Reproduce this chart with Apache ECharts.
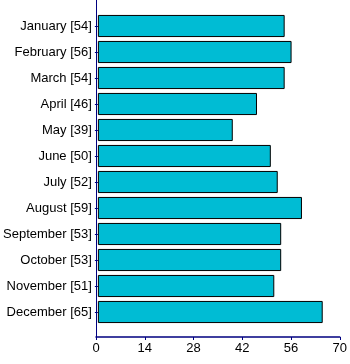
<!DOCTYPE html>
<html>
<head>
<meta charset="utf-8">
<script src="https://cdn.jsdelivr.net/npm/echarts@6/dist/echarts.min.js"></script>
<style>
  html, body { margin: 0; padding: 0; background: #fff; }
  #chart { width: 350px; height: 364px; }
</style>
</head>
<body>
<div id="chart"></div>
<script>
const months = ["January", "February", "March", "April", "May", "June",
  "July", "August", "September", "October", "November", "December"];
const values = [54, 56, 54, 46, 39, 50, 52, 59, 53, 53, 51, 65];
const xTicks = [0, 14, 28, 42, 56, 70];

const axisColor = "#000080";
const font = "Liberation Sans, Arial, sans-serif";

const chart = echarts.init(document.getElementById("chart"));

chart.setOption({
  animation: false,
  // grid 0: bars, grid 1: the outer axis frame
  grid: [
    { left: 96, right: 10, top: 13, bottom: 39 },
    { left: 96, right: 10, top: 0, bottom: 27 }
  ],
  xAxis: [
    {
      gridIndex: 0, type: "value", min: xTicks[0], max: xTicks[xTicks.length - 1],
      interval: 14, show: false
    },
    {
      gridIndex: 1, type: "value", position: "bottom",
      min: xTicks[0], max: xTicks[xTicks.length - 1],
      interval: 14,
      splitLine: { show: false },
      axisLine: { show: true, onZero: false, lineStyle: { color: axisColor, width: 1.5 } },
      axisTick: { show: true, length: 3, lineStyle: { color: axisColor } },
      axisLabel: { color: "#000", fontFamily: font, fontSize: 13, margin: 5 }
    }
  ],
  yAxis: [
    {
      gridIndex: 0, type: "category", inverse: true, data: months,
      axisLine: { show: false },
      axisTick: { show: true, alignWithLabel: true, length: 3, lineStyle: { color: axisColor } },
      axisLabel: {
        color: "#000", fontFamily: font, fontSize: 13, margin: 6,
        formatter: (name, i) => `${name} [${values[i]}]`
      }
    },
    {
      gridIndex: 1, type: "value", min: 0, max: 1,
      axisLine: { show: true, onZero: false, lineStyle: { color: axisColor, width: 1 } },
      axisTick: { show: false },
      axisLabel: { show: false },
      splitLine: { show: false }
    }
  ],
  series: [{
    type: "bar",
    xAxisIndex: 0,
    yAxisIndex: 0,
    data: values,
    barCategoryGap: "15%",
    itemStyle: { color: "#00bcd4", borderColor: "#000", borderWidth: 1 }
  }]
});
</script>
</body>
</html>
